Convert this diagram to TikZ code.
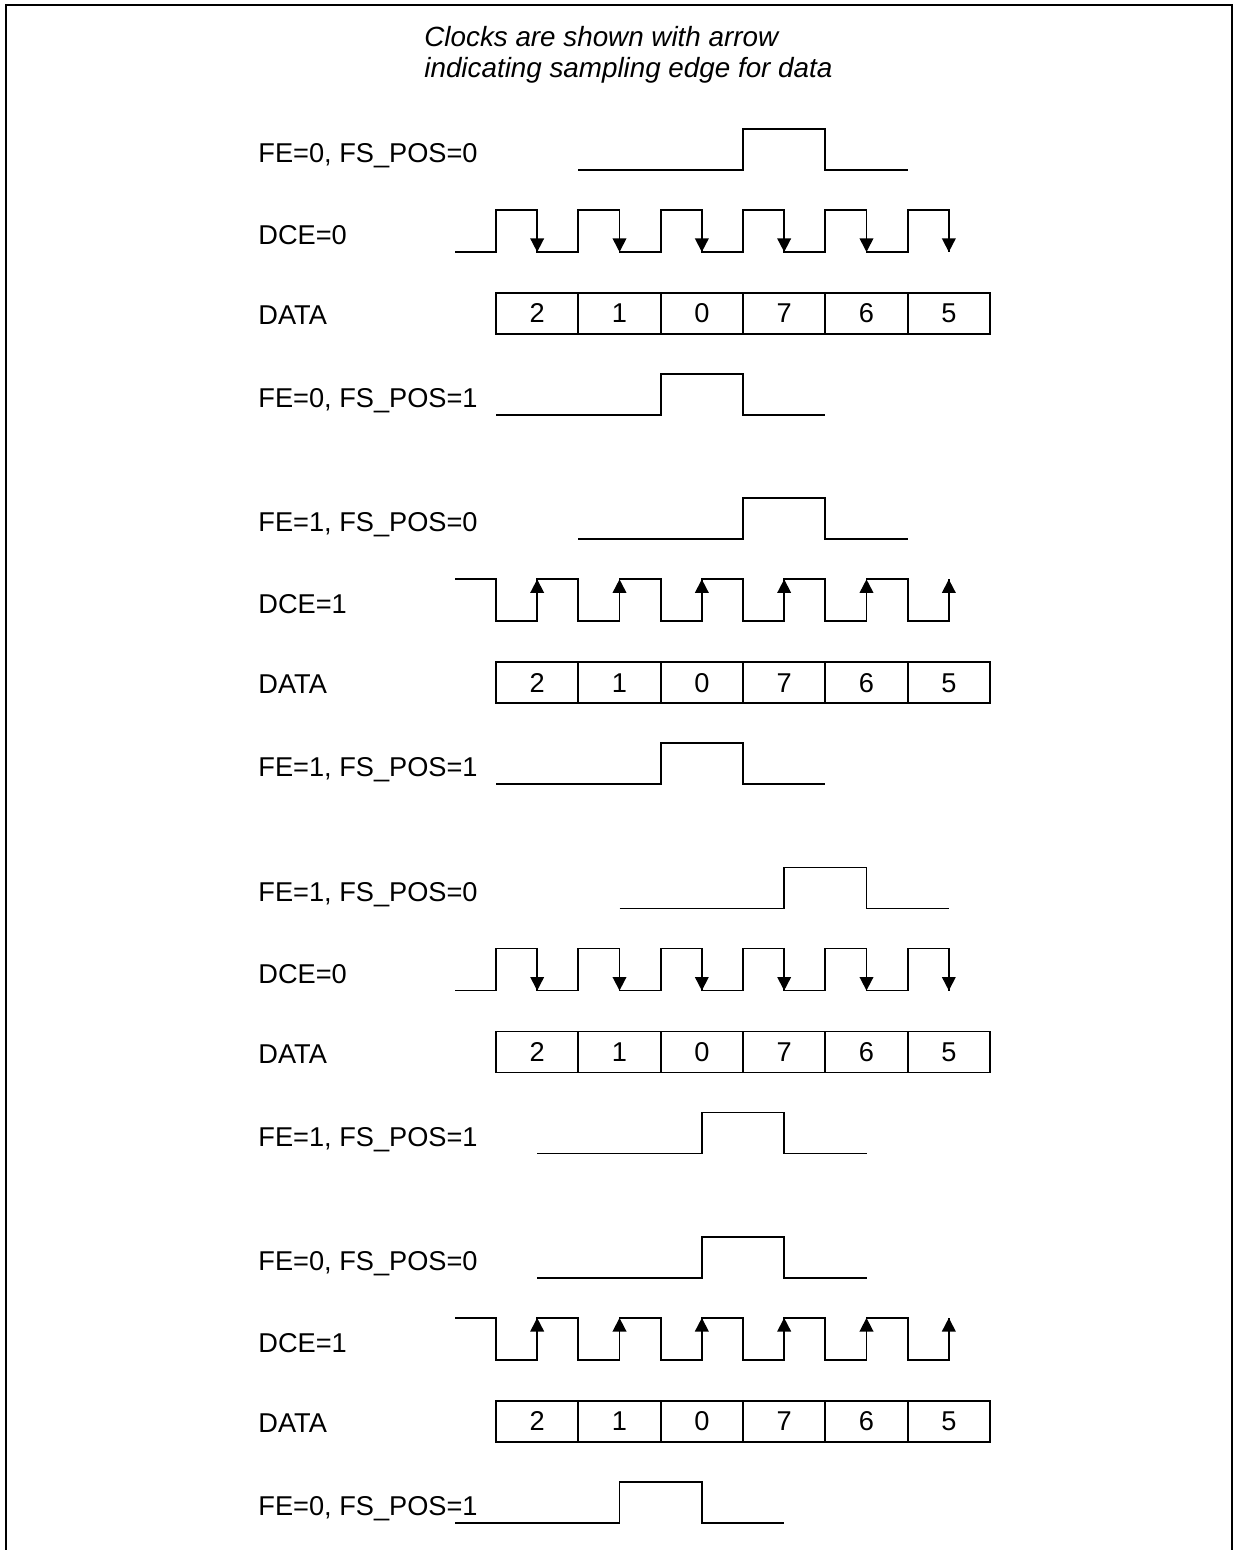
\documentclass[tikz,border=0pt]{standalone}
\usepackage{fontspec}
\setmainfont{Liberation Sans}
\usetikzlibrary{arrows.meta}
% FS waveform: #1 low y, #2 start x, #3 rise x, #4 fall x, #5 end x
\newcommand\fswave[5]{\draw[wave] (#2,#1) -- (#3,#1) -- (#3,{#1-41}) -- (#4,{#1-41}) -- (#4,#1) -- (#5,#1);}
% clock DCE=0 (sampling on falling edge): #1 low y
\newcommand\clkzero[1]{%
  \draw[wave] (455,#1) \foreach \k in {0,...,5}{ -- ({496+82.33*\k},#1) -- ({496+82.33*\k},{#1-42}) -- ({537.17+82.33*\k},{#1-42}) -- ({537.17+82.33*\k},#1)};
  \foreach \k in {0,...,5}{\draw[wave,tip] ({537.17+82.33*\k},{#1-42}) -- ({537.17+82.33*\k},#1);}}
% clock DCE=1 (sampling on rising edge): #1 high y
\newcommand\clkone[1]{%
  \draw[wave] (455,#1) \foreach \k in {0,...,5}{ -- ({496+82.33*\k},#1) -- ({496+82.33*\k},{#1+42}) -- ({537.17+82.33*\k},{#1+42}) -- ({537.17+82.33*\k},#1)};
  \foreach \k in {0,...,5}{\draw[wave,tip] ({537.17+82.33*\k},{#1+42}) -- ({537.17+82.33*\k},#1);}}
% data row: #1 centre y, #2 name prefix
\newcommand\datarow[2]{%
  \foreach \v [count=\i from 0] in {2,1,0,7,6,5}{\node[cell] (#2\i) at ({537.17+82.33*\i},#1) {\v};}}
\begin{document}
\begin{tikzpicture}[x=0.5pt,y=-0.5pt,
  wave/.style={line width=0.85pt},
  tip/.style={-{Triangle[length=6.8pt,width=6.8pt]}},
  lbl/.style={anchor=base west, inner sep=0pt, font=\fontsize{13.6}{16}\selectfont},
  ttl/.style={anchor=base west, inner sep=0pt, font=\fontsize{13.9}{16}\selectfont\itshape},
  cell/.style={draw, line width=0.85pt, minimum width=41.17pt, minimum height=20.5pt, inner sep=0pt, font=\fontsize{13.6}{16}\selectfont}]
\useasboundingbox (0,0) rectangle (1234,1550);
\draw[line width=1.1pt] (6,1550) -- (6,5) -- (1232,5) -- (1232,1550);

\node[ttl] (t1) at (424,47) {Clocks are shown with arrow};
\node[ttl] (t2) at (424,78) {indicating sampling edge for data};

% group 1
\node[lbl] (a1) at (258,162.5) {FE=0, FS\_POS=0};
\fswave{170}{578.33}{743}{825.33}{907.67}
\node[lbl] (a2) at (258,244.5) {DCE=0};
\clkzero{252}
\node[lbl] (a3) at (258,324.5) {DATA};
\datarow{313.5}{ad}
\node[lbl] (a4) at (258,407.5) {FE=0, FS\_POS=1};
\fswave{415}{496}{660.67}{743}{825.33}

% group 2
\begin{scope}[yshift=-184.65pt]
\node[lbl] (b1) at (258,162.5) {FE=1, FS\_POS=0};
\fswave{170}{578.33}{743}{825.33}{907.67}
\node[lbl] (b2) at (258,244.5) {DCE=1};
\clkone{210}
\node[lbl] (b3) at (258,324.5) {DATA};
\datarow{313.5}{bd}
\node[lbl] (b4) at (258,407.5) {FE=1, FS\_POS=1};
\fswave{415}{496}{660.67}{743}{825.33}
\end{scope}

% group 3
\begin{scope}[yshift=-369.3pt]
\node[lbl] (c1) at (258,162.5) {FE=1, FS\_POS=0};
\fswave{170}{619.5}{784.17}{866.5}{948.83}
\node[lbl] (c2) at (258,244.5) {DCE=0};
\clkzero{252}
\node[lbl] (c3) at (258,324.5) {DATA};
\datarow{313.5}{cd}
\node[lbl] (c4) at (258,407.5) {FE=1, FS\_POS=1};
\fswave{415}{537.17}{701.83}{784.17}{866.5}
\end{scope}

% group 4
\begin{scope}[yshift=-553.95pt]
\node[lbl] (e1) at (258,162.5) {FE=0, FS\_POS=0};
\fswave{170}{537.17}{701.83}{784.17}{866.5}
\node[lbl] (e2) at (258,244.5) {DCE=1};
\clkone{210}
\node[lbl] (e3) at (258,324.5) {DATA};
\datarow{313.5}{ed}
\node[lbl] (e4) at (258,407.5) {FE=0, FS\_POS=1};
\fswave{415}{455}{619.5}{701.83}{784.17}
\end{scope}
\end{tikzpicture}
\end{document}
